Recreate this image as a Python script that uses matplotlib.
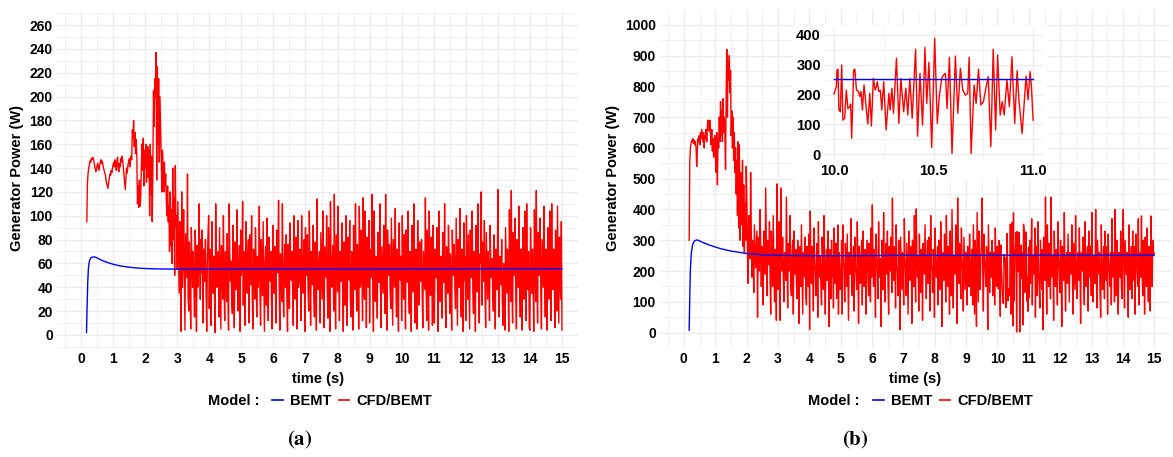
import numpy as np
import matplotlib
matplotlib.use("Agg")
import matplotlib.pyplot as plt
from matplotlib.lines import Line2D
from matplotlib.patches import Rectangle

# ---------------- data : panel (a) ----------------
a_bemt_t = [0.17, 0.19, 0.21, 0.23, 0.26, 0.30, 0.35, 0.40, 0.45, 0.50, 0.60, 0.70, 0.80,
            1.00, 1.20, 1.50, 1.80, 2.00, 2.50, 3.00, 4.00, 5.00, 15.0]
a_bemt_p = [2, 25, 45, 56, 62, 64.5, 65.3, 65.5, 65.2, 64.6, 63.2, 62, 61,
            59.3, 58, 56.8, 56, 55.7, 55.3, 55.2, 55.2, 55.3, 55.5]

a_early_start, a_early_step = 0.18, 0.02
a_early_p = [95, 128, 136, 140, 143, 146, 145, 148, 147, 149,
             148, 146, 143, 140, 137, 139, 142, 144, 141, 138,
             142, 145, 147, 144, 146, 143, 140, 138, 136, 134,
             130, 127, 125, 123, 128, 131, 135, 134, 138, 136,
             140, 143, 145, 141, 147, 144, 138, 146, 149, 140,
             137, 144, 141, 148, 145, 150, 146, 140, 133, 128,
             122, 132, 140, 136, 142, 145, 148, 141, 146, 150,
             147, 172, 165, 180, 158, 170, 152, 164, 150, 110,
             125, 107, 130, 108, 115, 140, 160, 138, 165, 125,
             155, 140, 160, 128, 145, 158, 132, 155, 100, 160,
             118, 150, 95, 140, 205, 175, 215, 200, 237, 130,
             225, 160, 215, 145, 200, 175, 150, 120, 155, 140,
             120, 145, 125, 135, 112, 100, 125, 95, 108, 70,
             120, 75, 105, 60, 140, 80, 115, 50, 142, 90,
             100]

a_noise_start, a_noise_step = 3.0, 0.02
a_noise_p = [55, 112, 70, 35, 95, 60, 3, 120, 40, 60, 105, 50, 4, 85, 65, 48, 135, 30, 20, 78, 55, 5, 90, 62, 40,
             70, 45, 15, 88, 58, 3, 75, 40, 50, 110, 66, 30, 80, 52, 88, 10, 65, 72, 45, 80, 35, 3, 60, 84, 100,
             22, 72, 55, 8, 95, 60, 35, 66, 40, 2, 110, 58, 40, 58, 70, 15, 90, 48, 5, 75, 62, 30, 100, 44, 12,
             70, 50, 28, 85, 35, 4, 110, 68, 45, 62, 30, 18, 92, 55, 6, 78, 60, 38, 105, 42, 20, 60, 75, 3, 88,
             50, 64, 112, 25, 70, 45, 8, 95, 58, 35, 65, 80, 10, 84, 50, 42, 100, 32, 5, 72, 56, 30, 90, 60, 15,
             66, 40, 48, 108, 36, 8, 80, 62, 33, 95, 50, 3, 60, 74, 25, 98, 45, 12, 82, 58, 45, 70, 28, 5, 92,
             55, 35, 74, 48, 10, 88, 60, 52, 113, 40, 4, 68, 50, 28, 110, 45, 15, 60, 76, 40, 84, 30, 3, 76, 55,
             22, 94, 60, 46, 70, 35, 8, 100, 52, 30, 82, 64, 5, 96, 40, 44, 72, 58, 12, 100, 48, 35, 66, 80, 3,
             90, 55, 50, 84, 38, 20, 104, 60, 8, 70, 52, 42, 92, 34, 15, 78, 62, 4, 114, 50, 38, 62, 70, 10, 86,
             58, 30, 104, 44, 6, 74, 60, 48, 100, 36, 14, 90, 64, 3, 112, 52, 40, 66, 75, 20, 118, 42, 5, 84, 60,
             36, 108, 50, 12, 70, 56, 45, 94, 38, 3, 78, 64, 25, 100, 48, 8, 82, 60, 46, 96, 30, 15, 70, 58, 4,
             92, 52, 38, 110, 44, 20, 76, 66, 5, 108, 40, 42, 88, 56, 12, 115, 48, 30, 104, 62, 6, 82, 50, 40, 96,
             10, 72, 58, 48, 118, 36, 3, 104, 60, 28, 66, 50, 14, 86, 62, 44, 110, 40, 6, 74, 56, 35, 92, 48, 18,
             118, 45, 4, 88, 62, 50, 76, 38, 22, 98, 54, 8, 80, 60, 40, 106, 42, 15, 72, 55, 3, 94, 62, 46, 66,
             12, 100, 50, 30, 84, 58, 5, 88, 44, 48, 104, 36, 18, 70, 60, 3, 92, 52, 36, 110, 40, 10, 72, 64, 5,
             96, 48, 25, 78, 58, 45, 80, 34, 6, 70, 55, 38, 115, 42, 12, 88, 60, 4, 104, 50, 33, 82, 62, 8, 92,
             40, 10, 72, 56, 48, 90, 36, 3, 104, 60, 28, 66, 44, 14, 86, 58, 44, 110, 32, 6, 74, 50, 35, 92, 60,
             18, 68, 46, 4, 88, 58, 50, 76, 40, 22, 98, 52, 8, 80, 62, 40, 106, 38, 15, 72, 55, 3, 94, 46, 66,
             12, 100, 60, 30, 84, 44, 5, 88, 56, 48, 104, 36, 18, 70, 58, 3, 92, 50, 36, 110, 40, 10, 68, 60, 120,
             25, 78, 52, 45, 96, 34, 6, 86, 58, 30, 70, 48, 12, 92, 60, 48, 64, 36, 20, 84, 56, 5, 72, 52, 38,
             122, 44, 15, 66, 58, 42, 80, 30, 8, 60, 52, 4, 90, 60, 35, 72, 46, 3, 105, 56, 28, 121, 40, 10, 86,
             60, 50, 98, 34, 5, 80, 56, 40, 108, 44, 15, 72, 58, 4, 90, 50, 30, 104, 62, 12, 110, 45, 38, 70, 6,
             4, 90, 55, 35, 72, 44, 3, 105, 60, 28, 121, 40, 10, 86, 58, 50, 98, 36, 5, 80, 60, 40, 108, 46, 15,
             72, 56, 4, 90, 48, 30, 104, 62, 12, 110, 40, 38, 72, 55, 6, 88, 46, 20, 108, 58, 10, 82, 50, 30, 95,
             4]

# ---------------- data : panel (b) ----------------
b_bemt_t = [0.17, 0.19, 0.21, 0.24, 0.28, 0.33, 0.40, 0.45, 0.50, 0.60, 0.80, 1.00, 1.20,
            1.50, 2.00, 2.50, 3.00, 4.00, 5.00, 7.00, 15.0]
b_bemt_p = [8, 120, 210, 260, 285, 297, 301, 300, 298, 293, 285, 278, 272,
            265, 257, 253, 251, 250, 250, 251, 252]

b_early_start, b_early_step = 0.17, 0.02
b_early_p = [300, 560, 600, 615, 625, 620, 630, 615, 625, 610,
             620, 600, 540, 590, 630, 620, 640, 610, 650, 630,
             660, 640, 620, 650, 600, 640, 630, 660, 620, 670,
             690, 680, 655, 690, 640, 610, 660, 590, 630, 570,
             600, 640, 560, 520, 650, 480, 630, 600, 700, 620,
             750, 640, 720, 620, 760, 650, 700, 640, 530, 780,
             920, 700, 880, 820, 900, 780, 850, 640, 720, 600,
             700, 560, 650, 520, 600, 450, 560, 380, 620, 340,
             610, 300, 520, 420, 350, 560, 280, 480, 260, 420,
             300, 540]

b_noise_start, b_noise_step = 2.01, 0.02
b_noise_p = [420, 250, 160, 380, 300, 240, 520, 330, 180, 300, 240, 130, 350, 280, 210, 270, 330, 50, 310, 260, 200, 400, 290, 150, 280,
             220, 90, 330, 250, 190, 470, 300, 120, 300, 240, 220, 360, 170, 60, 330, 260, 150, 380, 230, 100, 270, 200, 40, 483, 250,
             140, 360, 230, 40, 470, 280, 200, 310, 180, 100, 260, 220, 170, 440, 250, 80, 290, 200, 230, 380, 150, 120, 250, 300, 60,
             330, 210, 190, 270, 160, 110, 300, 240, 30, 240, 280, 150, 350, 200, 60, 260, 220, 180, 310, 120, 90, 280, 230, 150, 320,
             10, 395, 240, 160, 280, 200, 70, 340, 230, 200, 120, 260, 290, 50, 360, 220, 180, 250, 150, 90, 310, 240, 140, 380, 200,
             60, 230, 270, 170, 330, 200, 20, 270, 220, 110, 300, 180, 250, 80, 340, 230, 160, 290, 110, 200, 350, 60, 260, 210, 140,
             180, 300, 60, 350, 230, 210, 100, 290, 240, 150, 320, 190, 40, 260, 220, 190, 370, 150, 120, 240, 280, 70, 310, 210, 200,
             140, 360, 220, 30, 280, 240, 160, 230, 300, 90, 330, 190, 150, 270, 210, 60, 250, 300, 200, 120, 290, 230, 100, 340, 180,
             415, 230, 150, 270, 200, 50, 320, 240, 210, 110, 360, 220, 180, 240, 20, 300, 260, 140, 390, 200, 100, 250, 290, 190, 330,
             150, 60, 280, 230, 200, 310, 130, 437, 220, 170, 280, 240, 80, 350, 210, 200, 120, 300, 260, 10, 310, 220, 140, 260, 200,
             90, 370, 240, 200, 120, 290, 180, 60, 330, 230, 170, 240, 280, 30, 300, 210, 150, 380, 200, 100, 402, 250, 180, 250, 70,
             320, 210, 130, 270, 240, 40, 290, 200, 190, 350, 220, 110, 240, 300, 160, 310, 230, 70, 380, 220, 200, 130, 270, 240, 50,
             340, 210, 180, 230, 280, 90, 300, 200, 140, 360, 240, 20, 260, 210, 170, 320, 250, 100, 380, 220, 150, 280, 230, 60, 330,
             210, 120, 400, 240, 80, 250, 200, 190, 350, 230, 30, 437, 250, 160, 290, 210, 110, 340, 240, 200, 70, 310, 220, 140, 260,
             200, 90, 280, 230, 150, 320, 210, 120, 230, 270, 90, 350, 200, 60, 300, 230, 20, 390, 240, 100, 330, 210, 140, 250, 290,
             437, 200, 70, 320, 240, 200, 150, 280, 220, 10, 350, 230, 130, 260, 200, 180, 300, 120, 230, 260, 90, 340, 210, 150, 280,
             226, 142, 299, 153, 53, 285, 193, 148, 101, 94, 254, 215, 243, 81, 221, 322, 103, 142, 131, 120, 352, 60, 97, 358, 22,
             389, 103, 254, 271, 325, 2, 329, 288, 198, 325, 2, 232, 285, 176, 260, 25, 352, 333, 131, 249, 327, 103, 182, 69, 277,
             114, 300, 160, 240, 370, 90, 250, 200, 190, 340, 50, 280, 230, 120, 360, 200, 160, 80, 300, 220, 140, 270, 10, 310, 200,
             170, 440, 230, 60, 350, 210, 150, 290, 230, 110, 440, 200, 180, 250, 40, 330, 220, 150, 270, 200, 90, 360, 240, 200, 130,
             300, 210, 20, 280, 230, 170, 390, 200, 70, 240, 260, 160, 320, 210, 100, 260, 230, 190, 350, 180, 60, 290, 220, 140, 380,
             200, 110, 230, 260, 170, 340, 210, 30, 260, 230, 200, 310, 150, 90, 360, 220, 150, 240, 280, 70, 330, 210, 180, 280, 120,
             390, 210, 100, 250, 230, 160, 400, 200, 80, 300, 240, 190, 260, 120, 50, 350, 210, 140, 230, 280, 110, 330, 200, 170, 280,
             60, 320, 230, 200, 150, 260, 90, 370, 220, 180, 260, 100, 400, 230, 120, 300, 200, 60, 260, 240, 180, 330, 150, 110, 290,
             400, 200, 80, 300, 240, 190, 260, 130, 50, 350, 220, 140, 230, 280, 110, 330, 210, 170, 280, 60, 320, 230, 200, 150, 370,
             90, 260, 230, 180, 379, 200, 120, 300, 250, 60, 310, 220, 150, 340, 200, 100, 280, 240, 70, 379, 210, 150, 300, 250, 260]

# inset of panel (b): 10 s - 11 s
inset_t = [10.000, 10.012, 10.015, 10.020, 10.025, 10.032, 10.039, 10.045, 10.054, 10.062,
           10.070, 10.079, 10.084, 10.089, 10.099, 10.105, 10.113, 10.123, 10.130, 10.136,
           10.143, 10.151, 10.163, 10.170, 10.180, 10.188, 10.198, 10.207, 10.213, 10.218,
           10.225, 10.233, 10.240, 10.250, 10.262, 10.276, 10.282, 10.291, 10.299, 10.314,
           10.326, 10.336, 10.350, 10.361, 10.371, 10.381, 10.393, 10.410, 10.420, 10.432,
           10.445, 10.457, 10.466, 10.477, 10.491, 10.506, 10.519, 10.529, 10.541, 10.550,
           10.560, 10.568, 10.580, 10.593, 10.610, 10.622, 10.635, 10.647, 10.660, 10.672,
           10.679, 10.689, 10.704, 10.714, 10.726, 10.738, 10.751, 10.763, 10.775, 10.788,
           10.800, 10.812, 10.822, 10.835, 10.845, 10.855, 10.869, 10.881, 10.894, 10.908,
           10.920, 10.929, 10.945, 10.965, 10.975, 10.985, 10.992, 11.000]
inset_p = [202, 226, 282, 285, 148, 142, 299, 114, 120, 215,
           153, 159, 168, 53, 282, 285, 215, 210, 193, 210,
           148, 232, 148, 101, 204, 94, 254, 215, 226, 243,
           210, 215, 148, 243, 81, 204, 148, 221, 137, 322,
           103, 254, 142, 221, 131, 254, 120, 352, 60, 271,
           97, 358, 170, 308, 22, 389, 103, 193, 254, 265,
           271, 153, 325, 2, 329, 137, 288, 215, 198, 204,
           325, 2, 232, 170, 285, 165, 176, 221, 260, 25,
           352, 81, 333, 131, 176, 131, 249, 159, 327, 103,
           280, 182, 69, 262, 182, 277, 226, 114]
inset_bemt_t = [10.0, 11.0]
inset_bemt_p = [252, 252]

x_ticks = list(range(0, 16))
a_y_ticks = list(range(0, 261, 20))
b_y_ticks = list(range(0, 1001, 100))
inset_x_ticks = [10.0, 10.5, 11.0]
inset_x_labels = ["10.0", "10.5", "11.0"]
inset_y_ticks = [0, 100, 200, 300, 400]

# ---------------- build series ----------------
def series(start, step, vals):
    return start + step * np.arange(len(vals)), np.array(vals, float)

ta1, pa1 = series(a_early_start, a_early_step, a_early_p)
ta2, pa2 = series(a_noise_start, a_noise_step, a_noise_p)
a_cfd_t = np.concatenate([ta1, ta2]); a_cfd_p = np.concatenate([pa1, pa2])
tb1, pb1 = series(b_early_start, b_early_step, b_early_p)
tb2, pb2 = series(b_noise_start, b_noise_step, b_noise_p)
b_cfd_t = np.concatenate([tb1, tb2]); b_cfd_p = np.concatenate([pb1, pb2])

# ---------------- style ----------------
plt.rcParams['font.family'] = ['Liberation Sans', 'DejaVu Sans']
plt.rcParams['font.weight'] = 'bold'
plt.rcParams['mathtext.fontset'] = 'stix'

W, H = 1173, 457
fig = plt.figure(figsize=(W / 100, H / 100), dpi=100)

def fa(x0, y0, x1, y1):
    return [x0 / W, 1 - y1 / H, (x1 - x0) / W, (y1 - y0) / H]

GRID = '#EBEBEB'
RED = '#FF0000'
BLUE = '#0000FF'

def style(ax, xlim, ylim, xmaj, xmin, ymaj, ymin, fs=10):
    ax.set_xlim(xlim); ax.set_ylim(ylim)
    ax.set_xticks(xmaj); ax.set_xticks(xmin, minor=True)
    ax.set_yticks(ymaj); ax.set_yticks(ymin, minor=True)
    ax.grid(True, which='major', color=GRID, lw=0.9)
    ax.grid(True, which='minor', color=GRID, lw=0.5)
    ax.set_axisbelow(True)
    for s in ax.spines.values():
        s.set_visible(False)
    ax.tick_params(which='both', length=0, labelsize=fs, pad=3, colors='black')

axa = fig.add_axes(fa(57, 12, 578, 348))
axb = fig.add_axes(fa(660, 10, 1170, 348))

style(axa, (-0.75, 15.5), (-11, 271), x_ticks, np.arange(-0.5, 15.6, 1.0),
      a_y_ticks, np.arange(-10, 271, 20))
style(axb, (-0.76, 15.41), (-45, 1048), x_ticks, np.arange(-0.5, 15.6, 1.0),
      b_y_ticks, np.arange(-50, 1050, 100))

for ax, ct, cp, bt, bp in [(axa, a_cfd_t, a_cfd_p, a_bemt_t, a_bemt_p),
                           (axb, b_cfd_t, b_cfd_p, b_bemt_t, b_bemt_p)]:
    ax.plot(ct, cp, color=RED, lw=1.0, zorder=2)
    ax.plot(bt, bp, color=BLUE, lw=1.0, zorder=3)

# inset
fig.add_artist(Rectangle((793 / W, 1 - 180 / H), (1047 - 793) / W, (180 - 25) / H,
                         transform=fig.transFigure, facecolor='white',
                         edgecolor='none', zorder=2))
axi = fig.add_axes(fa(825, 29, 1043, 160), zorder=3)
axi.patch.set_alpha(0)
style(axi, (9.955, 11.05), (-20, 420), inset_x_ticks, [10.25, 10.75],
      inset_y_ticks, [50, 150, 250, 350], fs=10.5)
axi.set_xticklabels(inset_x_labels)
axi.plot(inset_t, inset_p, color=RED, lw=1.0, zorder=2)
axi.plot(inset_bemt_t, inset_bemt_p, color=BLUE, lw=1.0, zorder=3)

# labels
for xc in [17, 613]:
    fig.text(xc / W, 1 - 178 / H, 'Generator Power (W)', rotation=90,
             ha='center', va='center', fontsize=10.5)
for xc in [318, 915]:
    fig.text(xc / W, 1 - 379 / H, 'time (s)', ha='center', va='center', fontsize=10.5)

handles = [Line2D([], [], color=BLUE, lw=1.2), Line2D([], [], color=RED, lw=1.2)]
for xr, xl in [(259, 268), (860, 869)]:
    fig.text(xr / W, 1 - 401 / H, 'Model :', ha='right', va='center', fontsize=10.5)
    fig.legend(handles, ['BEMT', 'CFD/BEMT'], loc='center left',
               bbox_to_anchor=(xl / W, 1 - 401 / H), ncol=2, frameon=False,
               handlelength=0.7, handletextpad=0.5, columnspacing=0.5,
               fontsize=10.5, borderaxespad=0, borderpad=0.3)

fig.text(300 / W, 1 - 440 / H, r'$(\mathbf{a})$', ha='center', va='center', fontsize=15)
fig.text(855 / W, 1 - 440 / H, r'$(\mathbf{b})$', ha='center', va='center', fontsize=15)

fig.savefig('out.png', dpi=100)
